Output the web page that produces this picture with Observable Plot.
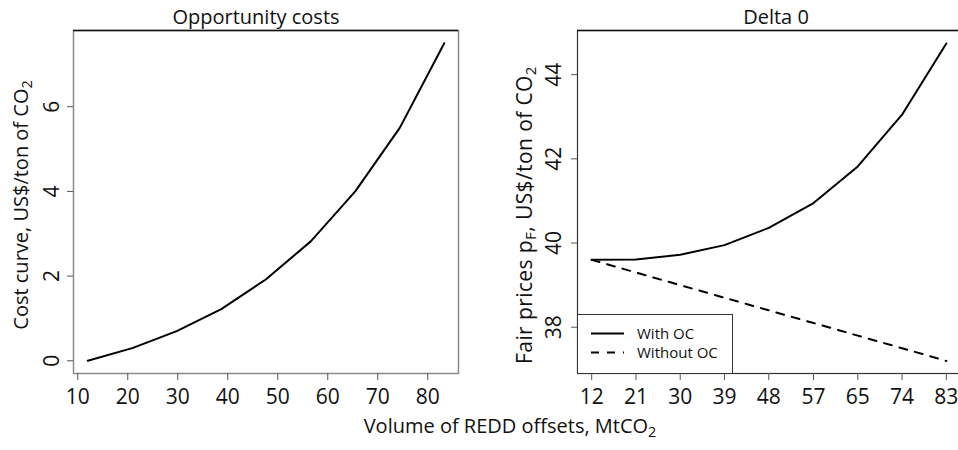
<!DOCTYPE html>
<html><head><meta charset="utf-8">
<script src="https://cdn.jsdelivr.net/npm/d3@7"></script>
<script src="https://cdn.jsdelivr.net/npm/@observablehq/plot@0.6"></script>
<style>
body{margin:0;background:#fff;font-family:"Open Sans",sans-serif;}
#wrap{position:relative;width:958px;height:450px;overflow:hidden;background:#fff;}
.abs{position:absolute;white-space:nowrap;color:#111;line-height:1;}
.ytitle{font-size:20px;transform:translate(-50%,-50%) rotate(-90deg);}
sub{font-size:0.72em;vertical-align:-0.28em;line-height:0;}
#legend{position:absolute;box-sizing:border-box;border:1px solid #333;border-bottom:none;background:#fff;}
</style></head><body><div id="wrap"></div>
<script>
// ---- data ----
const volume = [12, 20.9, 29.8, 38.7, 47.6, 56.6, 65.5, 74.4, 83.3];
const costCurve = [0, 0.3, 0.7, 1.22, 1.92, 2.82, 4.0, 5.5, 7.5];
const fairWithOC = [39.6, 39.61, 39.72, 39.95, 40.36, 40.95, 41.82, 43.05, 44.74];
const fairWithoutOC = [39.6, 39.3, 39.0, 38.7, 38.4, 38.1, 37.8, 37.5, 37.2];
const leftXTicks = [10, 20, 30, 40, 50, 60, 70, 80];
const leftYTicks = [0, 2, 4, 6];
const rightXTickLabels = ["12", "21", "30", "39", "48", "57", "65", "74", "83"];
const rightYTicks = [38, 40, 42, 44];
const seriesNames = ["With OC", "Without OC"];

const FONT = '"Open Sans", sans-serif';
const xDomain = [9.15, 86.15];
const leftYDomain = [-0.3, 7.8];
const rightYDomain = [36.9, 45.05];

const wrap = document.getElementById("wrap");

const costData = volume.map((v, i) => ({v, c: costCurve[i]}));
const fairData = [
  ...volume.map((v, i) => ({v, p: fairWithOC[i], s: seriesNames[0]})),
  ...volume.map((v, i) => ({v, p: fairWithoutOC[i], s: seriesNames[1]}))
];
const labelOf = new Map(volume.map((v, i) => [v, rightXTickLabels[i]]));

const left = Plot.plot({
  width: 479, height: 450,
  marginLeft: 73, marginRight: 21, marginTop: 30, marginBottom: 77,
  style: {fontFamily: FONT, fontSize: "20px", color: "#111", background: "transparent", overflow: "visible"},
  x: {domain: xDomain},
  y: {domain: leftYDomain},
  marks: [
    Plot.frame({stroke: "#8a8a8a", strokeWidth: 1.5}),
    Plot.ruleY([leftYDomain[1]], {stroke: "#111", strokeWidth: 1.5}),
    Plot.axisX({ticks: leftXTicks, tickSize: 7, tickPadding: 9, stroke: "#555", fontSize: 21, label: null}),
    Plot.axisY({ticks: leftYTicks, tickSize: 6, tickFormat: () => "", stroke: "#555", label: null}),
    Plot.text(leftYTicks, {y: d => d, text: d => String(d), frameAnchor: "left", dx: -21, rotate: -90,
      textAnchor: "middle", lineAnchor: "middle", fontSize: 21, fill: "#111"}),
    Plot.line(costData, {x: "v", y: "c", stroke: "#000", strokeWidth: 2}),
    Plot.text(["Opportunity costs"], {frameAnchor: "top", dx: -10, dy: -7, lineAnchor: "bottom", fontSize: 20, fill: "#111"})
  ]
});
left.style.position = "absolute"; left.style.left = "0px"; left.style.top = "0px";
wrap.appendChild(left);

const right = Plot.plot({
  width: 481, height: 450,
  marginLeft: 98, marginRight: 0, marginTop: 30, marginBottom: 77,
  style: {fontFamily: FONT, fontSize: "20px", color: "#111", background: "transparent", overflow: "visible"},
  x: {domain: xDomain},
  y: {domain: rightYDomain},
  marks: [
    Plot.frame({stroke: "#333", strokeWidth: 1.2}),
    Plot.ruleY([rightYDomain[1]], {stroke: "#111", strokeWidth: 1.5}),
    Plot.axisX({ticks: volume, tickFormat: d => labelOf.get(d), tickSize: 7, tickPadding: 9, stroke: "#555", fontSize: 21, label: null}),
    Plot.axisY({ticks: rightYTicks, tickSize: 6, tickFormat: () => "", stroke: "#555", label: null}),
    Plot.text(rightYTicks, {y: d => d, text: d => String(d), frameAnchor: "left", dx: -23, rotate: -90,
      textAnchor: "middle", lineAnchor: "middle", fontSize: 21, fill: "#111"}),
    Plot.line(fairData.filter(d => d.s === seriesNames[1]), {x: "v", y: "p", stroke: "#000", strokeWidth: 2, strokeDasharray: "8,8"}),
    Plot.line(fairData.filter(d => d.s === seriesNames[0]), {x: "v", y: "p", stroke: "#000", strokeWidth: 2}),
    Plot.text(["Delta 0"], {frameAnchor: "top", dx: 7, dy: -7, lineAnchor: "bottom", fontSize: 20, fill: "#111"})
  ]
});
right.style.position = "absolute"; right.style.left = "479px"; right.style.top = "0px";
wrap.appendChild(right);

// legend
const legend = document.createElement("div");
legend.id = "legend";
Object.assign(legend.style, {left: "577px", top: "314px", width: "156px", height: "59px"});
legend.innerHTML = `
<svg width="156" height="59" style="position:absolute;left:-1px;top:-1px">
  <line x1="14" x2="47" y1="19.5" y2="19.5" stroke="#000" stroke-width="2"/>
  <line x1="14" x2="47" y1="38.5" y2="38.5" stroke="#000" stroke-width="2" stroke-dasharray="8,8"/>
</svg>
<div class="abs" style="left:59px;top:11px;font-size:15px">${seriesNames[0]}</div>
<div class="abs" style="left:59px;top:30px;font-size:15px">${seriesNames[1]}</div>`;
wrap.appendChild(legend);

// axis titles
const addDiv = (html, css, cls = "abs") => {
  const d = document.createElement("div");
  d.className = cls; d.innerHTML = html; Object.assign(d.style, css); wrap.appendChild(d); return d;
};
addDiv("Volume of REDD offsets, MtCO<sub>2</sub>", {left: "510px", top: "416px", fontSize: "20px", transform: "translateX(-50%)"});
addDiv("Cost curve, US$/ton of CO<sub>2</sub>", {left: "21px", top: "205px"}, "abs ytitle");
addDiv("Fair prices p<sub>F</sub>, US$/ton of CO<sub>2</sub>", {left: "524px", top: "215px", fontSize: "21px", letterSpacing: "0.4px"}, "abs ytitle");
</script>
</body></html>
